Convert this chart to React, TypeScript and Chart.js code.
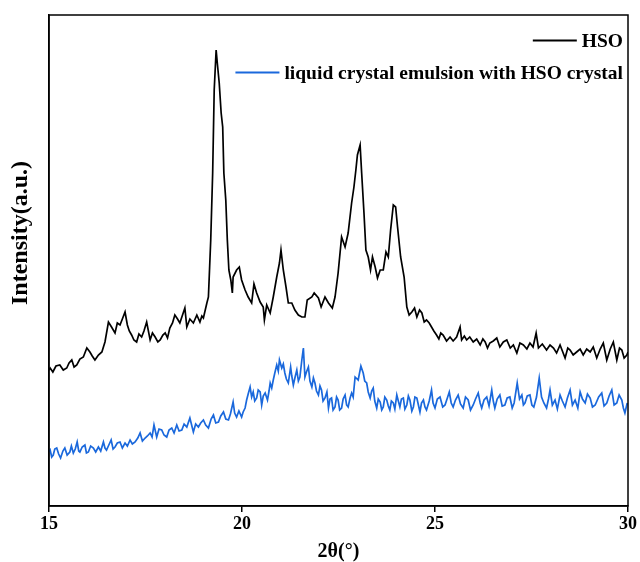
import React, { useEffect, useRef } from "react";
import { Chart, registerables } from "chart.js";

Chart.register(...registerables);

const xTicks = [15, 20, 25, 30];
const xTitle = "2θ(°)";
const yTitle = "Intensity(a.u.)";
const seriesLabels = ["HSO", "liquid crystal emulsion with HSO crystal"];
const seriesColors = ["#000000", "#1a68dc"];

const hsoAngle = [
  15.0, 15.03, 15.1, 15.18, 15.28, 15.37, 15.46, 15.52, 15.59, 15.65, 15.72, 15.8, 15.89, 15.98, 16.06, 16.12, 16.19,
  16.28, 16.37, 16.45, 16.54, 16.62, 16.71, 16.77, 16.84, 16.9, 16.97, 17.03, 17.08, 17.14, 17.2, 17.27, 17.33, 17.4,
  17.46, 17.53, 17.62, 17.68, 17.75, 17.82, 17.88, 17.95, 18.01, 18.07, 18.13, 18.2, 18.26, 18.33, 18.39, 18.52, 18.57,
  18.65, 18.74, 18.83, 18.91, 18.96, 19.0, 19.09, 19.13, 19.19, 19.24, 19.28, 19.33, 19.36, 19.41, 19.46, 19.5, 19.53,
  19.58, 19.62, 19.66, 19.71, 19.75, 19.77, 19.86, 19.93, 19.99, 20.08, 20.16, 20.25, 20.31, 20.38, 20.47, 20.55, 20.58,
  20.64, 20.73, 20.81, 20.9, 20.97, 21.01, 21.07, 21.14, 21.2, 21.29, 21.37, 21.46, 21.55, 21.63, 21.69, 21.81, 21.87,
  21.98, 22.05, 22.15, 22.24, 22.34, 22.41, 22.49, 22.58, 22.67, 22.75, 22.84, 22.9, 22.95, 22.99, 23.06, 23.1, 23.16,
  23.21, 23.27, 23.33, 23.38, 23.45, 23.51, 23.58, 23.66, 23.73, 23.79, 23.85, 23.92, 23.98, 24.03, 24.11, 24.2, 24.27,
  24.33, 24.4, 24.47, 24.53, 24.6, 24.66, 24.72, 24.78, 24.85, 24.91, 24.97, 25.04, 25.1, 25.15, 25.21, 25.3, 25.39,
  25.47, 25.56, 25.65, 25.69, 25.76, 25.82, 25.9, 25.99, 26.08, 26.17, 26.24, 26.3, 26.36, 26.42, 26.51, 26.6, 26.68,
  26.77, 26.86, 26.95, 27.03, 27.12, 27.2, 27.29, 27.38, 27.46, 27.54, 27.62, 27.68, 27.78, 27.89, 27.98, 28.07, 28.15,
  28.24, 28.3, 28.37, 28.44, 28.5, 28.58, 28.67, 28.76, 28.84, 28.93, 29.02, 29.1, 29.19, 29.28, 29.36, 29.45, 29.54,
  29.62, 29.71, 29.78, 29.84, 29.9, 29.97, 30.0,
];
const hsoIntensity = [
  139, 141, 137, 143, 144, 139, 141, 146, 149, 142, 144, 150, 152, 161, 157, 153, 149,
  154, 157, 167, 187, 182, 176, 186, 184, 190, 197, 184, 178, 174, 169, 167, 175, 172,
  178, 187, 169, 176, 172, 167, 169, 174, 176, 171, 181, 186, 194, 190, 186, 201, 182,
  190, 186, 194, 187, 193, 191, 206, 212, 269, 336, 419, 459, 446, 426, 396, 382, 336,
  309, 269, 239, 229, 216, 232, 239, 242, 229, 219, 212, 206, 225, 216, 207, 202, 189,
  204, 196, 212, 232, 246, 259, 239, 222, 206, 206, 199, 194, 192, 192, 209, 212, 216,
  211, 202, 212, 206, 201, 212, 236, 272, 262, 276, 306, 322, 339, 354, 364, 336, 296,
  259, 252, 239, 252, 242, 231, 239, 239, 257, 252, 279, 304, 302, 282, 252, 232, 202,
  194, 197, 201, 192, 199, 196, 187, 189, 186, 182, 178, 174, 170, 176, 174, 168, 172,
  168, 172, 182, 169, 173, 169, 172, 167, 170, 164, 170, 167, 161, 166, 168, 171, 162,
  167, 169, 161, 164, 156, 166, 164, 160, 166, 162, 176, 161, 165, 159, 164, 161, 156,
  164, 158, 151, 161, 159, 154, 157, 160, 154, 160, 157, 162, 151, 160, 166, 149, 160,
  167, 149, 161, 159, 151, 154, 157,
];

const lcAngle = [
  15.0, 15.03, 15.07, 15.11, 15.15, 15.2, 15.25, 15.3, 15.36, 15.41, 15.47, 15.54, 15.58, 15.63, 15.68, 15.73, 15.77,
  15.8, 15.86, 15.93, 15.97, 16.02, 16.08, 16.15, 16.21, 16.28, 16.34, 16.41, 16.45, 16.49, 16.55, 16.61, 16.66, 16.71,
  16.77, 16.84, 16.9, 16.97, 17.03, 17.1, 17.16, 17.23, 17.3, 17.36, 17.42, 17.49, 17.55, 17.62, 17.67, 17.72, 17.79,
  17.85, 17.92, 17.98, 18.05, 18.11, 18.18, 18.24, 18.31, 18.37, 18.44, 18.5, 18.57, 18.65, 18.74, 18.8, 18.87, 18.93,
  19.0, 19.06, 19.13, 19.2, 19.26, 19.32, 19.39, 19.45, 19.52, 19.58, 19.65, 19.7, 19.77, 19.81, 19.86, 19.92, 19.99,
  20.03, 20.08, 20.12, 20.16, 20.21, 20.25, 20.29, 20.33, 20.38, 20.42, 20.47, 20.51, 20.55, 20.6, 20.66, 20.7, 20.73,
  20.77, 20.81, 20.85, 20.9, 20.94, 20.97, 21.03, 21.07, 21.11, 21.15, 21.2, 21.26, 21.29, 21.33, 21.37, 21.42, 21.46,
  21.5, 21.55, 21.59, 21.63, 21.67, 21.72, 21.76, 21.81, 21.85, 21.89, 21.93, 21.98, 22.02, 22.06, 22.1, 22.15, 22.2,
  22.24, 22.28, 22.32, 22.36, 22.41, 22.45, 22.49, 22.53, 22.58, 22.62, 22.67, 22.71, 22.75, 22.8, 22.84, 22.88, 22.93,
  23.01, 23.08, 23.14, 23.18, 23.23, 23.27, 23.32, 23.36, 23.4, 23.44, 23.49, 23.53, 23.58, 23.62, 23.66, 23.7, 23.75,
  23.79, 23.83, 23.87, 23.92, 23.96, 24.01, 24.05, 24.09, 24.13, 24.18, 24.22, 24.27, 24.31, 24.35, 24.4, 24.44, 24.48,
  24.53, 24.57, 24.61, 24.65, 24.7, 24.74, 24.78, 24.85, 24.91, 24.95, 25.0, 25.06, 25.13, 25.2, 25.26, 25.32, 25.37,
  25.42, 25.47, 25.53, 25.6, 25.66, 25.73, 25.79, 25.86, 25.92, 25.99, 26.05, 26.12, 26.17, 26.21, 26.27, 26.34, 26.4,
  26.47, 26.51, 26.55, 26.61, 26.68, 26.74, 26.81, 26.87, 26.94, 27.0, 27.05, 27.13, 27.19, 27.25, 27.29, 27.33, 27.39,
  27.46, 27.51, 27.56, 27.63, 27.7, 27.76, 27.82, 27.89, 27.94, 27.98, 28.04, 28.11, 28.17, 28.24, 28.3, 28.37, 28.43,
  28.5, 28.56, 28.63, 28.7, 28.76, 28.82, 28.89, 28.95, 29.02, 29.08, 29.15, 29.24, 29.32, 29.38, 29.45, 29.51, 29.58,
  29.64, 29.71, 29.77, 29.84, 29.88, 29.92, 29.98,
];
const lcIntensity = [
  57, 59, 52, 54, 60, 61, 55, 51, 58, 61, 54, 57, 63, 56, 60, 67, 58,
  57, 62, 64, 56, 57, 63, 61, 57, 62, 58, 67, 61, 59, 64, 69, 60, 62,
  66, 67, 61, 66, 63, 69, 65, 67, 71, 76, 68, 71, 73, 76, 72, 84, 72,
  80, 79, 74, 72, 79, 81, 76, 84, 78, 79, 85, 82, 91, 77, 85, 82, 86,
  89, 84, 81, 90, 94, 86, 87, 93, 97, 90, 89, 95, 107, 96, 92, 98, 92,
  97, 101, 109, 115, 122, 112, 117, 108, 111, 119, 117, 104, 113, 116, 109, 118, 126,
  121, 129, 136, 144, 138, 149, 141, 145, 136, 130, 126, 142, 133, 124, 131, 139, 128,
  132, 149, 161, 132, 137, 142, 128, 122, 131, 126, 118, 114, 123, 119, 108, 111, 117,
  101, 110, 111, 99, 102, 112, 109, 99, 101, 110, 114, 104, 102, 111, 116, 112, 132,
  129, 143, 136, 128, 126, 117, 111, 118, 121, 108, 101, 110, 107, 99, 102, 112, 109,
  103, 99, 108, 106, 100, 114, 108, 102, 110, 111, 100, 104, 113, 109, 98, 102, 112,
  111, 104, 97, 106, 109, 102, 99, 108, 119, 106, 101, 110, 112, 102, 104, 111, 117,
  106, 102, 109, 114, 105, 101, 112, 109, 99, 104, 110, 116, 106, 101, 109, 112, 103,
  119, 108, 101, 110, 114, 103, 104, 111, 112, 101, 106, 126, 110, 114, 104, 106, 113,
  114, 104, 102, 112, 131, 112, 106, 101, 110, 119, 104, 109, 100, 114, 108, 102, 111,
  119, 104, 109, 101, 117, 110, 106, 115, 111, 102, 104, 112, 116, 103, 106, 113, 119,
  104, 106, 114, 109, 101, 96, 106,
];

const FONT = "'Liberation Serif', 'Times New Roman', serif";

const toPoints = (xs: number[], ys: number[]) => xs.map((x, i) => ({ x, y: ys[i] }));

const framePlugin = {
  id: "frameAndLegend",
  afterDraw(chart: any) {
    const { ctx, chartArea } = chart;
    ctx.save();
    ctx.strokeStyle = "#000";
    ctx.lineWidth = 1.5;
    ctx.strokeRect(chartArea.left, chartArea.top, chartArea.right - chartArea.left, chartArea.bottom - chartArea.top);
    // y title
    ctx.save();
    ctx.translate(21, 233);
    ctx.rotate(-Math.PI / 2);
    ctx.font = `bold 24px ${FONT}`;
    ctx.textAlign = "center";
    ctx.textBaseline = "middle";
    ctx.fillStyle = "#000";
    ctx.fillText(yTitle, 0, 0);
    ctx.restore();
    // legend
    ctx.font = `bold 19.5px ${FONT}`;
    ctx.textBaseline = "middle";
    ctx.textAlign = "left";
    const rightEdge = 623;
    const rowsY = [40.5, 72.5];
    chart.data.datasets.forEach((ds: any, i: number) => {
      const w = ctx.measureText(ds.label).width;
      const tx = rightEdge - w;
      const y = rowsY[i];
      ctx.strokeStyle = ds.borderColor;
      ctx.lineWidth = 2;
      ctx.beginPath();
      ctx.moveTo(tx - 49, y);
      ctx.lineTo(tx - 5, y);
      ctx.stroke();
      ctx.fillStyle = "#000";
      ctx.fillText(ds.label, tx, y + 1);
    });
    ctx.restore();
  },
};

export default function App() {
  const ref = useRef<HTMLCanvasElement | null>(null);
  useEffect(() => {
    if (!ref.current) return;
    const chart = new Chart(ref.current, {
      type: "line",
      data: {
        datasets: [
          {
            label: seriesLabels[0],
            data: toPoints(hsoAngle, hsoIntensity),
            borderColor: seriesColors[0],
            borderWidth: 1.7,
            pointRadius: 0,
            tension: 0,
            fill: false,
          },
          {
            label: seriesLabels[1],
            data: toPoints(lcAngle, lcIntensity),
            borderColor: seriesColors[1],
            borderWidth: 1.7,
            pointRadius: 0,
            tension: 0,
            fill: false,
          },
        ],
      },
      options: {
        animation: false,
        responsive: false,
        devicePixelRatio: 1,
        layout: { padding: { left: 0, right: 12, top: 15, bottom: 0 } },
        plugins: { legend: { display: false }, tooltip: { enabled: false } },
        scales: {
          x: {
            type: "linear",
            min: 15,
            max: 30,
            afterBuildTicks: (scale: any) => {
              scale.ticks = xTicks.map((v) => ({ value: v }));
            },
            afterFit: (scale: any) => {
              scale.height = 56;
            },
            grid: { display: true, drawOnChartArea: false, drawTicks: true, tickLength: 6, color: "#000", lineWidth: 1.5 },
            border: { display: true, color: "#000", width: 1.5 },
            ticks: { color: "#000", font: { family: FONT, size: 18, weight: "bold" }, padding: 2, maxRotation: 0 },
            title: {
              display: true,
              text: xTitle,
              color: "#000",
              font: { family: FONT, size: 20, weight: "bold", lineHeight: 1 },
              padding: { top: 1, bottom: 0 },
            },
          },
          y: {
            type: "linear",
            min: 3,
            max: 494,
            afterFit: (scale: any) => {
              scale.width = 49;
            },
            grid: { display: false },
            border: { display: true, color: "#000", width: 1.5 },
            ticks: { display: false },
            title: { display: false },
          },
        },
      },
      plugins: [framePlugin],
    } as any);
    return () => chart.destroy();
  }, []);
  return (
    <div style={{ position: "fixed", left: 0, top: 0, width: 640, height: 562, background: "#fff" }}>
      <canvas ref={ref} width={640} height={562} style={{ display: "block" }} />
    </div>
  );
}
